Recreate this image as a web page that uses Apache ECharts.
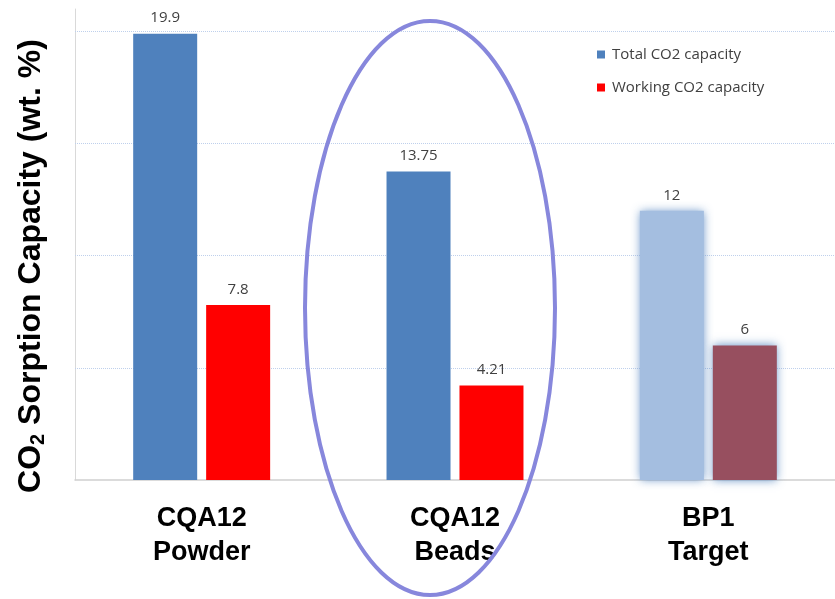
<!DOCTYPE html>
<html>
<head>
<meta charset="utf-8">
<script src="https://cdn.jsdelivr.net/npm/echarts@6/dist/echarts.min.js"></script>
<style>html,body{margin:0;padding:0;background:#fff}#c{width:835px;height:599px}</style>
</head>
<body>
<div id="c"></div>
<script>
const categories = ['CQA12\nPowder', 'CQA12\nBeads', 'BP1\nTarget'];
const totalCapacity = [19.9, 13.75, 12];
const workingCapacity = [7.8, 4.21, 6];
const seriesNames = ['Total CO2 capacity', 'Working CO2 capacity'];
const gridValues = [5, 10, 15, 20];
const targetIndex = 2;

const chart = echarts.init(document.getElementById('c'), null, {renderer: 'canvas'});

function items(values, normal, target) {
  return values.map((v, i) => ({
    value: v,
    itemStyle: i === targetIndex ? target : {color: normal}
  }));
}
const glow = {shadowBlur: 9, shadowColor: 'rgba(79,129,189,0.85)'};
const labelStyle = {show: true, position: 'top', distance: 8, color: '#404040', fontFamily: 'Open Sans', fontSize: 15};

chart.setOption({
  animation: false,
  grid: {left: 75, right: -4, top: 9, bottom: 119},
  legend: {
    orient: 'vertical', left: 597, top: 47, padding: 0, itemWidth: 8, itemHeight: 8, itemGap: 18,
    icon: 'rect',
    textStyle: {color: '#404040', fontFamily: 'Open Sans', fontSize: 15, padding: [0, 0, 0, 2]},
    data: seriesNames
  },
  xAxis: {
    type: 'category', data: categories,
    axisLine: {lineStyle: {color: '#d0d0d0', width: 1.5}},
    axisTick: {show: false},
    axisLabel: {color: '#000', fontFamily: 'Liberation Sans', fontWeight: 'bold', fontSize: 27, lineHeight: 34, margin: 22}
  },
  yAxis: {
    type: 'value', min: 0, max: 21,
    axisLine: {show: true, lineStyle: {color: '#d9d9d9', width: 1}},
    axisTick: {show: false}, axisLabel: {show: false}, splitLine: {show: false}
  },
  series: [
    {
      name: seriesNames[0], type: 'bar', barWidth: 64, barGap: '14%',
      itemStyle: {color: '#4f81bd'},
      data: items(totalCapacity, '#4f81bd', Object.assign({color: '#a4bee0'}, glow)),
      label: labelStyle,
      markLine: {
        silent: true, z: 1, symbol: ['none', 'none'], label: {show: false},
        lineStyle: {type: 'dotted', color: '#bfd0ec', width: 1},
        data: gridValues.map(v => ({yAxis: v}))
      }
    },
    {
      name: seriesNames[1], type: 'bar', barWidth: 64,
      itemStyle: {color: '#ff0000'},
      data: items(workingCapacity, '#ff0000', Object.assign({color: '#974f5f'}, glow)),
      label: labelStyle
    }
  ],
  graphic: [
    {
      type: 'ellipse', z: 100,
      shape: {cx: 430, cy: 308, rx: 125, ry: 287},
      style: {fill: 'none', stroke: '#8787dc', lineWidth: 4}
    },
    {
      type: 'text', x: 31, y: 266, rotation: Math.PI / 2,
      style: {
        text: '{a|CO}{b|2}{a| Sorption Capacity (wt. %)}',
        align: 'center', verticalAlign: 'middle',
        rich: {
          a: {fontFamily: 'Liberation Sans', fontWeight: 'bold', fontSize: 32, fill: '#000', lineHeight: 36},
          b: {fontFamily: 'Liberation Sans', fontWeight: 'bold', fontSize: 20, fill: '#000', lineHeight: 36, padding: [14, 0, 0, 0]}
        }
      }
    }
  ]
});
</script>
</body>
</html>
